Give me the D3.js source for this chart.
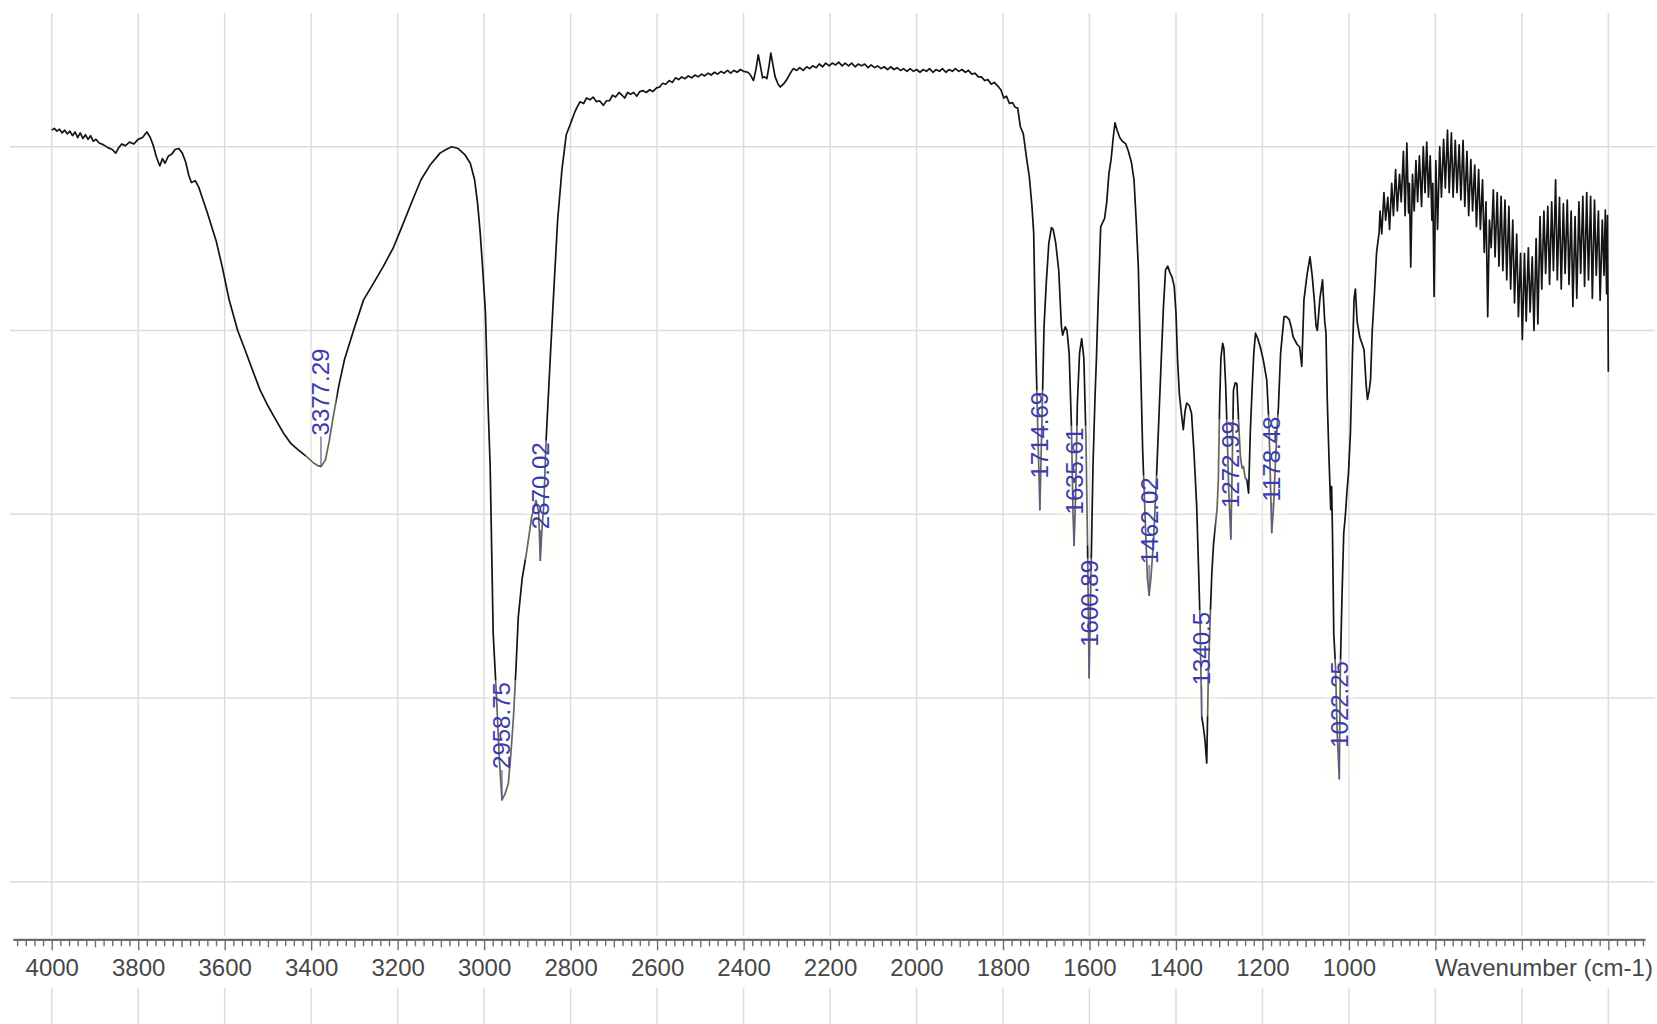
<!DOCTYPE html>
<html>
<head>
<meta charset="utf-8">
<script src="https://cdn.jsdelivr.net/npm/d3@7"></script>
<style>
  html, body { margin: 0; padding: 0; background: #ffffff; }
  svg { display: block; }
</style>
</head>
<body>
<svg id="chart" width="1657" height="1024"></svg>
<script>
// IR spectrum, [wavenumber (cm-1), transmittance (%)], split by spectral region
const bandOH = [
  [4000,81.8],[3994,82.0],[3988,81.7],[3982,81.9],[3976,81.5],[3970,81.8],[3964,81.4],[3958,81.7],
  [3952,81.2],[3946,81.6],[3940,81.0],[3934,81.5],[3928,80.9],[3922,81.3],[3916,80.8],[3910,81.2],
  [3904,80.6],[3898,80.8],[3890,80.4],[3880,80.2],[3870,79.9],[3860,79.7],[3852,79.3],[3845,79.9],
  [3838,80.3],[3830,80.1],[3820,80.5],[3810,80.3],[3800,80.8],[3790,81.0],[3780,81.6],[3772,81.0],
  [3765,80.1],[3758,78.9],[3750,77.9],[3744,78.7],[3738,78.2],[3730,79.0],[3722,79.2],[3715,79.7],
  [3706,79.8],[3698,79.3],[3690,78.3],[3683,76.9],[3677,76.1],[3668,76.3],[3660,75.6],[3650,74.2],
  [3640,72.8],[3630,71.3],[3620,69.8],[3606,67.0],[3590,63.4],[3570,60.0],[3553,57.9],[3535,55.6],
  [3518,53.5],[3500,51.8],[3482,50.3],[3465,48.9],[3447,47.7],[3430,47.0],[3411,46.3],[3395,45.6],
  [3385,45.3],[3377.29,45.2],[3367,45.9],[3358,48.0],[3349,50.6],[3336,54.0],[3323,56.8],[3300,60.3],
  [3279,63.3],[3255,65.2],[3234,66.9],[3210,69.0],[3190,71.3],[3168,73.9],[3146,76.4],[3125,78.0],
  [3102,79.3],[3088,79.7],[3075,80.0],[3060,79.8],[3044,79.1],[3032,78.2]
];

const bandCH = [
  [3022,76.4],[3015,73.8],[3009,70.6],[3003,66.5],[2997,62.0],[2991,52.0],[2986,45.2],[2979,27.0],
  [2971,19.8],[2965,13.5],[2958.75,8.9],[2952,9.5],[2944,10.7],[2938,14.0],[2932,18.0],[2926,23.5],
  [2921,28.8],[2912,33.0],[2901,36.1],[2890,39.7],[2880,41.5],[2874,40.3],[2870.02,35.0],[2866,38.5],
  [2862,41.0],[2857,47.7],[2848,56.1],[2840,63.3],[2830,72.0],[2820,77.5],[2810,81.3]
];

const baselineMid = [
  [2797,82.9],[2790,83.8],[2785,84.3],[2778,84.9],[2770,84.7],[2763,85.3],[2755,85.1],[2748,85.4],
  [2740,84.9],[2733,85.0],[2724,84.5],[2717,85.0],[2710,85.0],[2703,85.6],[2696,85.4],[2688,85.9],
  [2681,85.6],[2675,85.3],[2668,85.9],[2661,85.7],[2654,85.9],[2647,85.5],[2640,86.0],[2632,86.1],
  [2625,85.9],[2617,86.2],[2610,86.0],[2601,86.4],[2594,86.5],[2587,86.9],[2580,86.8],[2572,87.2],
  [2565,87.0],[2557,87.5],[2550,87.3],[2543,87.6],[2535,87.4],[2528,87.7],[2520,87.5],[2512,87.8],
  [2505,87.6],[2497,87.9],[2490,87.7],[2482,88.0],[2475,87.8],[2467,88.1],[2460,87.9],[2452,88.2],
  [2445,88.0],[2437,88.3],[2430,88.0],[2422,88.3],[2415,88.1],[2407,88.4],[2400,88.2],[2390,88.1],
  [2384,87.8],[2377,87.2],[2371,88.5],[2366,90.0],[2361,88.8],[2356,87.5],[2351,87.6],[2346,87.4],
  [2341,88.8],[2337,90.2],[2332,88.9],[2327,87.6],[2320,86.8],[2315,86.5],[2308,86.8],[2300,87.3],
  [2292,88.0],[2285,88.5],[2277,88.3],[2270,88.6],[2262,88.3],[2254,88.7],[2247,88.5],[2240,88.8],
  [2232,88.6],[2225,89.0],[2217,88.7],[2210,89.1],[2202,88.8],[2195,89.1],[2187,88.9],[2180,89.2],
  [2172,88.8],[2165,89.1],[2157,88.8],[2150,89.1],[2142,88.7],[2135,89.0],[2127,88.8],[2120,89.0],
  [2112,88.6],[2105,88.9],[2097,88.6],[2090,88.8],[2082,88.5],[2075,88.7],[2067,88.4],[2060,88.7],
  [2052,88.4],[2045,88.6],[2037,88.3],[2030,88.5],[2022,88.2],[2015,88.5],[2007,88.2],[2000,88.4],
  [1992,88.1],[1985,88.4],[1977,88.2],[1970,88.5],[1962,88.1],[1955,88.4],[1947,88.2],[1940,88.5],
  [1932,88.1],[1925,88.4],[1917,88.2],[1910,88.5],[1902,88.2],[1895,88.4],[1887,88.1],[1880,88.3],
  [1872,87.9],[1865,88.0],[1857,87.6],[1850,87.6],[1842,87.2],[1835,87.3],[1827,86.8],[1820,87.0],
  [1812,86.6],[1805,86.2],[1798,85.3],[1792,85.5],[1785,84.7],[1778,84.8],[1772,84.3],[1766,84.2],
  [1760,82.2]
];

const fingerprint = [
  [1753,81.4],[1745,78.6],[1739,76.7],[1733,73.5],[1729,70.6],[1725,60.0],[1720,50.0],[1714.69,40.5],
  [1710,50.0],[1705,60.5],[1700,65.1],[1694,69.5],[1688,71.2],[1684,71.0],[1678,69.5],[1671,66.5],
  [1665,60.5],[1662,59.5],[1656,60.4],[1652,60.0],[1647,57.5],[1642,50.0],[1638,40.0],[1635.61,36.6],
  [1632,42.0],[1628,52.0],[1623,57.5],[1618,59.1],[1613,57.0],[1608,48.0],[1604,35.0],[1600.89,22.2],
  [1597,32.0],[1592,45.0],[1587,53.0],[1584,56.8],[1580,63.0],[1574,71.3],[1565,72.2],[1560,74.0],
  [1555,77.1],[1550,78.6],[1545,81.0],[1541,82.6],[1536,81.8],[1530,81.0],[1524,80.6],[1516,80.3],
  [1510,79.5],[1503,78.3],[1497,76.4],[1492,72.0],[1487,66.9],[1482,56.8],[1477,47.0],[1470,38.0],
  [1466,33.0],[1462.02,31.2],[1458,33.0],[1452,37.0],[1445,44.0],[1439,51.0],[1434,56.8],[1429,62.5],
  [1424,66.6],[1419,67.0],[1414,66.3],[1409,65.8],[1404,64.8],[1400,62.0],[1396,56.5],[1392,53.0],
  [1387,50.8],[1383,49.2],[1379,51.2],[1375,52.1],[1369,51.8],[1364,51.0],[1358,46.5],[1352,40.8],
  [1347,33.0],[1344,27.8],[1340.5,18.0],[1337,17.0],[1333,15.5],[1328.8,12.9],[1325,22.7],[1321,28.5],
  [1317,33.6],[1313,36.8],[1309,38.6],[1305,40.5],[1302,43.7],[1299,52.0],[1296,57.0],[1292,58.6],
  [1289,58.0],[1285,54.0],[1281,48.0],[1278,42.6],[1272.99,37.3],[1270,45.0],[1267,53.5],[1263,54.3],
  [1259,54.2],[1255,50.0],[1251,46.3],[1247,45.0],[1244,45.2],[1240,44.0],[1236,43.7],[1232,42.3],
  [1228,49.0],[1224,53.5],[1220,57.5],[1216,59.7],[1210,59.0],[1205,58.2],[1198,56.8],[1190,54.6],
  [1185,50.0],[1182,44.5],[1178.48,38.0],[1174,41.0],[1171,44.5],[1166,49.5],[1163,51.7],[1158,57.5],
  [1155,59.0],[1150,61.5],[1145,61.5],[1138,61.2],[1133,60.3],[1129,59.3],[1120,58.5],[1114,58.2],
  [1109,56.1],[1104,63.3],[1097,66.0],[1090,68.0],[1085,66.0],[1080,63.3],[1076,60.5],[1073,60.0],
  [1067,63.5],[1061,65.5],[1056,61.0],[1053,59.7],[1050,52.4],[1046,46.0],[1042,40.5],[1040,43.0],
  [1038,38.0],[1035,27.0],[1031,23.4],[1027,16.0],[1022.25,11.2],[1019.7,23.4],[1016,31.0],[1012,37.9],
  [1008,40.0],[1004.5,42.5],[1001,44.5],[996.5,48.8],[992,57.0],[988,63.5],[985,64.5],[981,61.0],
  [975,59.3],[970,58.6],[965,57.9],[960,54.0],[957,52.5],[953,53.5],[950,54.6],[946,60.0],
  [941,64.0],[936,68.5],[930,70.7]
];

const farRegion = [
  [928,73.0],[924,70.5],[919,75.0],[915,72.0],[910,74.5],[906,71.0],[901,76.0],[897,72.5],
  [892,77.5],[888,73.0],[883,77.0],[879,74.0],[874,79.5],[870,72.5],[866,80.4],[862,72.8],
  [860,76.0],[857,66.9],[853,77.0],[849,73.0],[845,78.5],[841,74.0],[837,79.0],[832,73.5],
  [828,80.0],[824,75.0],[820,80.5],[816,74.5],[812,79.0],[808,72.0],[806,76.0],[803,63.7],
  [799,78.5],[795,71.0],[790,80.0],[786,74.5],[781,80.8],[777,75.5],[772,81.8],[768,75.0],
  [763,81.5],[759,74.5],[754,80.7],[750,75.0],[745,80.2],[741,74.2],[736,80.7],[732,73.5],
  [727,79.5],[723,72.5],[718,78.6],[714,73.0],[709,78.0],[705,71.3],[700,77.5],[696,71.0],
  [691,76.4],[687,68.5],[683,74.0],[679,61.5],[675,72.0],[671,69.0],[666,75.3],[662,68.0],
  [657,75.0],[653,67.0],[648,74.6],[644,66.5],[639,74.2],[635,65.5],[630,73.5],[626,64.5],
  [621,72.0],[617,63.0],[612,70.5],[608,61.5],[603,68.4],[599,59.0],[594,68.4],[590,61.0],
  [585,69.0],[581,62.0],[576,68.0],[572,60.0],[567,70.0],[563,60.7],[558,72.4],[554,64.5],
  [549,73.0],[545,66.2],[540,73.5],[536,65.0],[531,74.0],[527,66.5],[522,76.4],[518,65.5],
  [513,74.5],[509,64.5],[504,73.8],[500,66.2],[495,74.2],[491,65.0],[486,73.0],[482,62.6],
  [477,72.4],[473,63.5],[468,74.0],[464,66.2],[459,74.6],[455,64.8],[450,75.0],[446,65.5],
  [441,74.6],[437,63.5],[432,74.2],[428,66.0],[423,73.0],[419,63.3],[414,72.0],[410,66.0],
  [407,73.1],[404,64.0],[402,72.5],[400,55.5]
];

// Labelled absorption maxima (cm-1)
const peakWavenumbers = [3377.29, 2958.75, 2870.02, 1714.69, 1635.61, 1600.89, 1462.02, 1340.5, 1272.99, 1178.48, 1022.25];

// Axis ticks
const majorTicks = [4000, 3800, 3600, 3400, 3200, 3000, 2800, 2600, 2400, 2200, 2000, 1800, 1600, 1400, 1200, 1000, 800, 600, 400];
const tickLabels = ["4000", "3800", "3600", "3400", "3200", "3000", "2800", "2600", "2400", "2200", "2000", "1800", "1600", "1400", "1200", "1000", "", "", ""];
const axisTitle = "Wavenumber (cm-1)";
const gridValues = [0, 20, 40, 60, 80];

const spectrum = [...bandOH, ...bandCH, ...baselineMid, ...fingerprint, ...farRegion];

const svg = d3.select("#chart");
const W = 1657, H = 1024;

const x = d3.scaleLinear().domain([4090, 315]).range([12.8, 1645.1]);
const y = d3.scaleLinear().domain([-6.27, 94.52]).range([939.3, 13.3]);

const FONT = "'Liberation Sans', Arial, Helvetica, sans-serif";

// grid
const grid = svg.append("g").attr("class", "grid")
  .attr("stroke", "#dcdcdc").attr("stroke-width", 1.5).attr("fill", "none");

grid.selectAll("line.h").data(gridValues).join("line")
  .attr("class", "h")
  .attr("x1", 10).attr("x2", 1655)
  .attr("y1", d => y(d)).attr("y2", d => y(d));

grid.selectAll("line.vtop").data(majorTicks).join("line")
  .attr("class", "vtop")
  .attr("x1", d => x(d)).attr("x2", d => x(d))
  .attr("y1", 13).attr("y2", 936);

grid.selectAll("line.vbot").data(majorTicks).join("line")
  .attr("class", "vbot")
  .attr("x1", d => x(d)).attr("x2", d => x(d))
  .attr("y1", 988).attr("y2", H);

// x axis: minor, medium and major ticks
const axisY = y.range()[0];
const minorTicks = d3.range(4080, 319, -20).filter(v => v % 100 !== 0);
const mediumTicks = d3.range(4000, 399, -100).filter(v => v % 200 !== 0);

const axisG = svg.append("g").attr("transform", `translate(0,${axisY})`);

axisG.append("g")
  .call(d3.axisBottom(x).tickValues(minorTicks).tickSize(7).tickSizeOuter(0).tickFormat(""))
  .call(g => g.select(".domain").remove());
axisG.append("g")
  .call(d3.axisBottom(x).tickValues(mediumTicks).tickSize(8).tickSizeOuter(0).tickFormat(""))
  .call(g => g.select(".domain").remove());
axisG.append("g")
  .call(d3.axisBottom(x).tickValues(majorTicks).tickSize(11).tickSizeOuter(0)
        .tickFormat((d, i) => tickLabels[i]))
  .call(g => g.select(".domain").attr("stroke", "#6e6e6e").attr("stroke-width", 2.2))
  .call(g => g.selectAll("text")
        .attr("y", 37).attr("dy", 0)
        .attr("fill", "#474747")
        .attr("font-family", FONT).attr("font-size", 24));

axisG.selectAll(".tick line").attr("stroke", "#6e6e6e").attr("stroke-width", 1.4);

axisG.append("text")
  .attr("x", 1544).attr("y", 37)
  .attr("text-anchor", "middle")
  .attr("fill", "#474747")
  .attr("font-family", FONT).attr("font-size", 24)
  .text(axisTitle);

// spectrum trace
const line = d3.line().x(d => x(d[0])).y(d => y(d[1]));
svg.append("path")
  .datum(spectrum)
  .attr("d", line)
  .attr("fill", "none")
  .attr("stroke", "#141414")
  .attr("stroke-width", 1.7)
  .attr("stroke-linejoin", "round");

// peak annotations
const valueAt = w => {
  const p = spectrum.find(d => d[0] === w);
  return p ? p[1] : null;
};
const LEADER = 30;
const labels = svg.append("g").attr("class", "peaks");
peakWavenumbers.forEach(w => {
  const px = x(w), py = y(valueAt(w));
  const g = labels.append("g");
  const t = g.append("text")
    .attr("transform", `translate(${px},${py - LEADER - 1}) rotate(-90)`)
    .attr("text-anchor", "start")
    .attr("dominant-baseline", "central")
    .attr("font-family", FONT).attr("font-size", 24)
    .attr("fill", "#3a3ab4")
    .text(String(w));
  const bb = t.node().getBBox();
  g.insert("rect", "text")
    .attr("x", px - bb.height / 2 - 2)
    .attr("y", py - LEADER - 1 - bb.width - 2)
    .attr("width", bb.height + 4)
    .attr("height", bb.width + LEADER + 3)
    .attr("fill", "#fcfcf2").attr("opacity", 0.35);
  g.append("line")
    .attr("x1", px).attr("x2", px)
    .attr("y1", py).attr("y2", py - LEADER)
    .attr("stroke", "#5a5a9a").attr("stroke-width", 1.2);
  t.raise();
});
</script>
</body>
</html>
